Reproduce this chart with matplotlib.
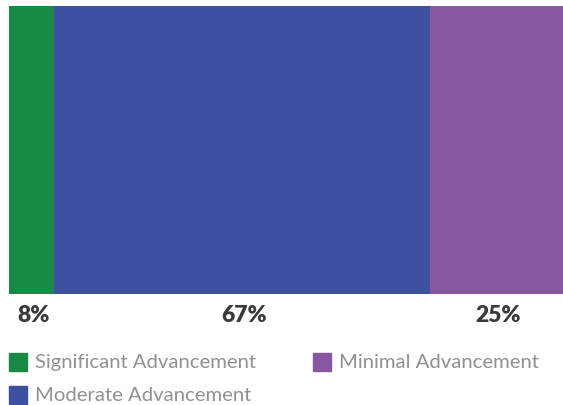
import matplotlib
matplotlib.use("Agg")
import matplotlib.pyplot as plt
from matplotlib.patches import Rectangle
from matplotlib.transforms import blended_transform_factory

categories = ["Significant Advancement", "Moderate Advancement", "Minimal Advancement"]
values = [8.1, 67.9, 24.0]          # bar widths
labels = ["8%", "67%", "25%"]       # printed labels
colors = ["#188A45", "#3E51A1", "#8857A1"]

W, H = 563, 406
fig = plt.figure(figsize=(W / 100, H / 100), dpi=100)
ax = fig.add_axes([9 / W, (H - 295) / H, 1 - 9 / W, (295 - 7) / H])
tr = blended_transform_factory(ax.transData, fig.transFigure)

left = 0
for cat, v, c, lab in zip(categories, values, colors, labels):
    ax.barh([0], [v], left=left, color=c, height=1.0, edgecolor="none")
    ax.text(left + v / 2 + 0.3, (H - 316) / H, lab, transform=tr,
            ha="center", va="center", fontsize=16.5, fontweight="heavy", color="#3a3a3a",
            family="Lato")
    left += v
ax.set_xlim(0, sum(values))
ax.set_ylim(-0.5, 0.5)
ax.axis("off")

# legend (manual layout)
pos = [(9, 363), (9, 396), (313, 363)]
for (x, y), cat, c in zip(pos, categories, colors):
    fig.patches.append(Rectangle((x / W, (H - y - 9) / H), 18 / W, 18 / H,
                                 transform=fig.transFigure, color=c))
    fig.text((x + 26) / W, (H - y) / H, cat, ha="left", va="center", fontsize=14.6,
             fontweight="normal", color="#919191", family="Lato")

fig.savefig("out.png", dpi=100)
